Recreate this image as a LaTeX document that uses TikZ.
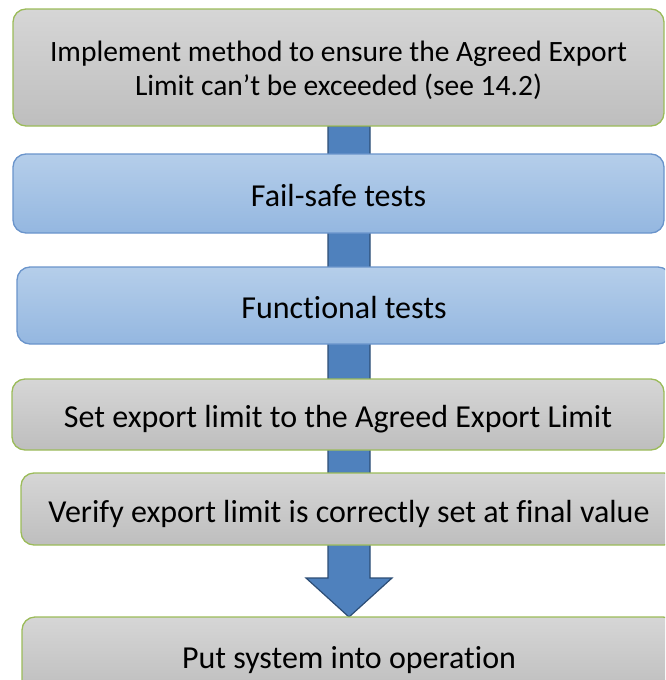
\documentclass[tikz,border=0pt]{standalone}
\usepackage{fontspec}
\setmainfont{Carlito}[Ligatures={NoCommon}]
\usetikzlibrary{calc}

\definecolor{boxgreen}{HTML}{9BBB59}
\definecolor{graytop}{HTML}{D6D6D6}
\definecolor{graybot}{HTML}{BEBEBE}
\definecolor{bluetop}{HTML}{B5CEEA}
\definecolor{bluebot}{HTML}{94B7E0}
\definecolor{blueedge}{HTML}{6A94CB}
\definecolor{arrowfill}{HTML}{4F81BD}
\definecolor{arrowedge}{HTML}{2C4D75}

\tikzset{
  stepbase/.style={rectangle, rounded corners=13pt, line width=1.3pt,
    inner sep=0pt, align=center, font=\fontsize{32}{38}\selectfont,
    text height=26pt, text depth=0pt},
  graystep/.style={stepbase, draw=boxgreen, top color=graytop, bottom color=graybot},
  bluestep/.style={stepbase, draw=blueedge, top color=bluetop, bottom color=bluebot},
  bigarrow/.style={fill=arrowfill, draw=arrowedge, line width=1.2pt, line join=miter}
}

\begin{document}
\begin{tikzpicture}[x=1pt, y=-1pt]
  \useasboundingbox (0,0) rectangle (665,680);
  \clip (0,0) rectangle (665,680);

  % arrow axis and tip
  \coordinate (axis) at (349,0);
  \coordinate (shaftend) at (349,578);

  % main arrow behind the boxes
  \draw[bigarrow]
    ($(axis |- 0,126)+(-21,0)$) -- ($(shaftend)+(-21,0)$) -- ($(shaftend)+(-43,0)$)
    -- (349,617) -- ($(shaftend)+(43,0)$) -- ($(shaftend)+(21,0)$)
    -- ($(axis |- 0,126)+(21,0)$) -- cycle;

  \node[graystep, text height=, text depth=, font=\fontsize{29.5}{34}\selectfont,
        minimum width=651pt, minimum height=117pt] (b1) at (338.5,67.5)
    {\rule{0pt}{27pt}Implement method to ensure the Agreed Export\\Limit can’t be exceeded (see 14.2)};
  \node[bluestep, minimum width=651pt, minimum height=79pt] (b2) at (338.5,193.5)
    {Fail-safe tests};
  \node[bluestep, minimum width=654pt, minimum height=77pt] (b3) at (344,305.5)
    {Functional tests};
  \node[graystep, minimum width=652pt, minimum height=71pt] (b4) at (338,414.5)
    {Set export limit to the Agreed Export Limit};
  \node[graystep, minimum width=656pt, minimum height=72pt] (b5) at (349,509)
    {Verify export limit is correctly set at final value};
  \node[graystep, minimum width=654pt, minimum height=76pt] (b6) at (349,655)
    {Put system into operation};
\end{tikzpicture}
\end{document}
